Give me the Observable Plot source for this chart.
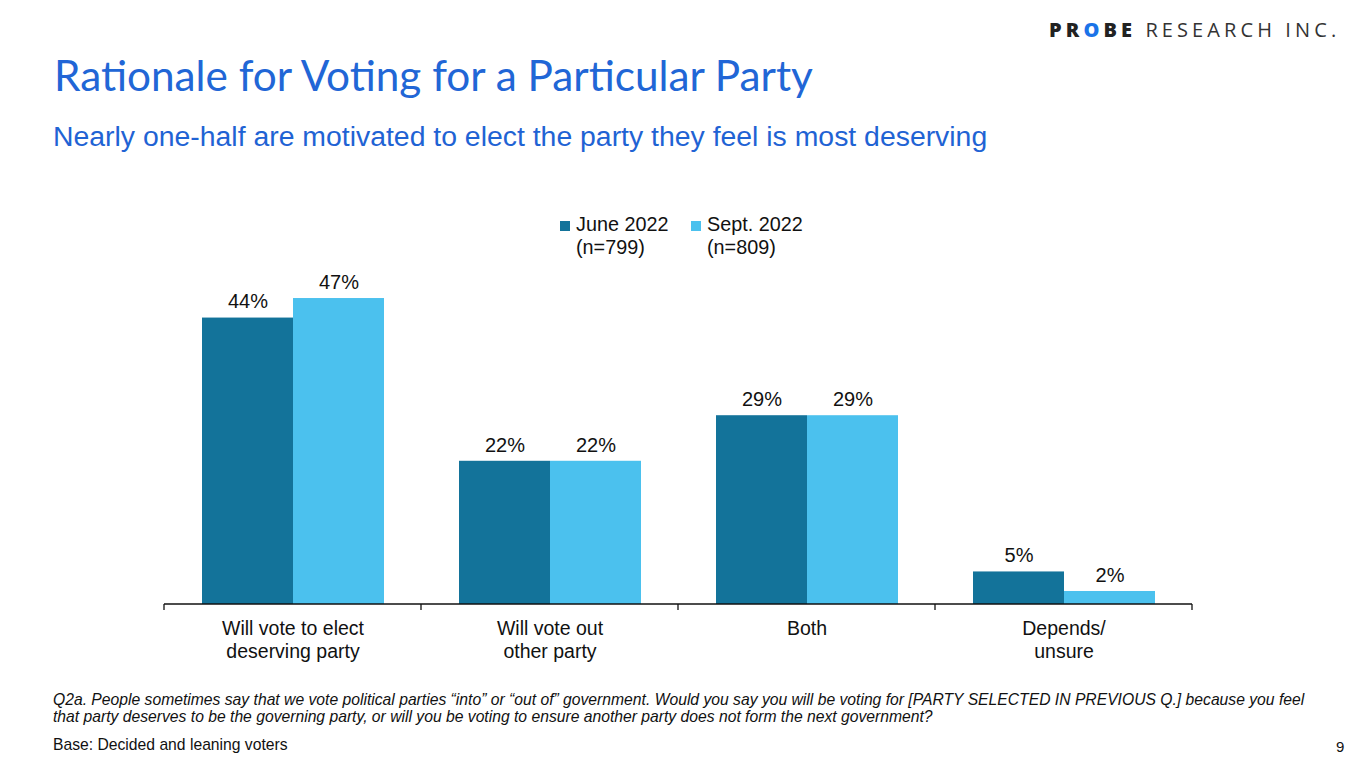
<!DOCTYPE html>
<html>
<head>
<meta charset="utf-8">
<script src="https://cdn.jsdelivr.net/npm/d3@7"></script>
<script src="https://cdn.jsdelivr.net/npm/@observablehq/plot@0.6"></script>
<style>
  html, body { margin: 0; padding: 0; background: #fff; }
  body { width: 1365px; height: 767px; position: relative; overflow: hidden; font-family: "Liberation Sans", Arial, sans-serif; }
  .abs { position: absolute; white-space: nowrap; }
  #logo { top: 16px; left: 1049px; font-family: "Open Sans", sans-serif; font-size: 20px; letter-spacing: 4.1px; color: #222; }
  #logo b { font-weight: 800; }
  #logo .o { color: #1a73e8; }
  #logo span.lt { font-weight: 400; color: #333; }
  #title { top: 49px; left: 54px; font-family: Lato, "Open Sans", sans-serif; font-size: 42.3px; color: #2166d6; }
  #subtitle { top: 120px; left: 53px; font-size: 28.4px; color: #1f63d4; }
  #legend { top: 213px; left: 560px; font-size: 19.8px; color: #111; line-height: 23px; }
  .li { position: absolute; top: 0; }
  .sw { position: absolute; top: 8px; width: 10px; height: 10px; }
  .lt2 { position: absolute; left: 16px; top: 0; }
  #chart { position: absolute; top: 250px; left: 0; }
  #foot { top: 691px; left: 53px; font-size: 15.7px; font-style: italic; color: #111; line-height: 17px; }
  #base { top: 736px; left: 53px; font-size: 15.7px; color: #111; }
  #page { top: 738px; left: 1336px; font-size: 15px; color: #111; }
</style>
</head>
<body>
<div id="logo" class="abs"><b>PR<span class="o">O</span>BE</b> <span class="lt">RESEARCH INC.</span></div>
<div id="title" class="abs">Rationale for Voting for a Particular Party</div>
<div id="subtitle" class="abs">Nearly one-half are motivated to elect the party they feel is most deserving</div>
<div id="legend" class="abs"></div>
<div id="chart"></div>
<div id="foot" class="abs">Q2a. People sometimes say that we vote political parties “into” or “out of” government. Would you say you will be voting for [PARTY SELECTED IN PREVIOUS Q.] because you feel<br>that party deserves to be the governing party, or will you be voting to ensure another party does not form the next government?</div>
<div id="base" class="abs">Base: Decided and leaning voters</div>
<div id="page" class="abs">9</div>
<script>
const categories = ["Will vote to elect\ndeserving party", "Will vote out\nother party", "Both", "Depends/\nunsure"];
const seriesNames = ["June 2022", "Sept. 2022"];
const seriesLabels = ["June 2022\n(n=799)", "Sept. 2022\n(n=809)"];
const june = [44, 22, 29, 5];
const sept = [47, 22, 29, 2];
const colors = ["#13739a", "#4bc1ee"];

const data = [];
categories.forEach((c, i) => {
  data.push({category: c, series: seriesNames[0], value: june[i]});
  data.push({category: c, series: seriesNames[1], value: sept[i]});
});

// legend
const legend = document.getElementById("legend");
const legendOffsets = [0, 131];
seriesLabels.forEach((lab, i) => {
  const item = document.createElement("div");
  item.className = "li";
  item.style.left = legendOffsets[i] + "px";
  const sw = document.createElement("div");
  sw.className = "sw";
  sw.style.background = colors[i];
  const t = document.createElement("div");
  t.className = "lt2";
  t.innerHTML = lab.split("\n").join("<br>");
  item.appendChild(sw); item.appendChild(t);
  legend.appendChild(item);
});

const chart = Plot.plot({
  width: 1365,
  height: 424,
  marginTop: 28.5,
  marginBottom: 70,
  marginLeft: 162,
  marginRight: 172,
  style: {fontFamily: '"Liberation Sans", Arial, sans-serif', fontSize: "19.5px", color: "#111", background: "transparent"},
  fx: {domain: categories, padding: 0, label: null},
  x: {domain: seriesNames, paddingInner: 0, paddingOuter: 0.40, axis: null},
  y: {domain: [0, 50], axis: null},
  color: {domain: seriesNames, range: colors},
  marks: [
    Plot.axisFx({anchor: "bottom", tickSize: 0, tickPadding: 14, label: null, lineHeight: 1.18, fontSize: 19.5}),
    Plot.barY(data, {fx: "category", x: "series", y: "value", fill: "series"}),
    Plot.text(data, {fx: "category", x: "series", y: "value", text: d => d.value + "%", dy: -16, fill: "#111", fontSize: 20})
  ]
});
document.getElementById("chart").appendChild(chart);

// baseline and category boundary ticks, drawn from the plot's own scales
const fx = chart.scale("fx");
const y = chart.scale("y");
const y0 = y.apply(0);
const edges = categories.map(c => fx.apply(c));
edges.push(fx.apply(categories[categories.length - 1]) + fx.bandwidth);
const svg = d3.select(chart.tagName.toLowerCase() === "svg" ? chart : chart.querySelector("svg"));
const g = svg.append("g").attr("stroke", "#111").attr("stroke-width", 1.3);
g.append("line").attr("x1", edges[0]).attr("x2", edges[edges.length - 1]).attr("y1", y0).attr("y2", y0);
edges.forEach(e => g.append("line").attr("x1", e).attr("x2", e).attr("y1", y0).attr("y2", y0 + 6));
</script>
</body>
</html>
